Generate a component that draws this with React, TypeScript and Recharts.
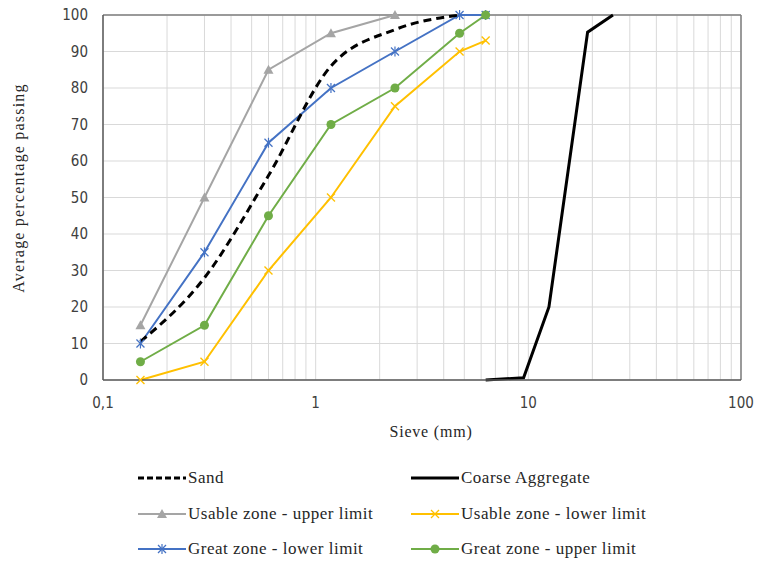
import React from 'react';
import { LineChart, Line, XAxis, YAxis, CartesianGrid, ReferenceLine, Label } from 'recharts';

// ---- data ----
const sieveSand = [0.15, 0.3, 0.6, 1.18, 2.36, 4.75];
const sandPassing = [10.5, 28, 56, 86, 96, 100];

const sieveCoarse = [6.3, 9.5, 12.5, 19, 25];
const coarsePassing = [0, 0.6, 20, 95.3, 100];

const sieveUsableUpper = [0.15, 0.3, 0.6, 1.18, 2.36];
const usableUpper = [15, 50, 85, 95, 100];

const sieveZones = [0.15, 0.3, 0.6, 1.18, 2.36, 4.75, 6.3];
const usableLower = [0, 5, 30, 50, 75, 90, 93];
const greatLower = [10, 35, 65, 80, 90, 100, 100];
const greatUpper = [5, 15, 45, 70, 80, 95, 100];

const xTicks = [
  0.1, 0.2, 0.3, 0.4, 0.5, 0.6, 0.7, 0.8, 0.9,
  1, 2, 3, 4, 5, 6, 7, 8, 9,
  10, 20, 30, 40, 50, 60, 70, 80, 90, 100,
];
const xTickLabels: Record<string, string> = { '0.1': '0,1', '1': '1', '10': '10', '100': '100' };
const yTicks = [0, 10, 20, 30, 40, 50, 60, 70, 80, 90, 100];

const seriesNames = [
  'Sand',
  'Coarse Aggregate',
  'Usable zone - upper limit',
  'Usable zone - lower limit',
  'Great zone - lower limit',
  'Great zone - upper limit',
];

const toPoints = (xs: number[], ys: number[]) => xs.map((x, i) => ({ x, y: ys[i] }));

const sandData = toPoints(sieveSand, sandPassing);
const coarseData = toPoints(sieveCoarse, coarsePassing);
const usableUpperData = toPoints(sieveUsableUpper, usableUpper);
const usableLowerData = toPoints(sieveZones, usableLower);
const greatLowerData = toPoints(sieveZones, greatLower);
const greatUpperData = toPoints(sieveZones, greatUpper);

// ---- styles ----
const GRAY = '#a5a5a5';
const YELLOW = '#ffc000';
const BLUE = '#4472c4';
const GREEN = '#70ad47';
const TICK_FONT = 'DejaVu Sans Condensed';
const SERIF = 'Liberation Serif';

type Shape = 'triangle' | 'x' | 'star' | 'circle' | 'none';

const Marker = ({ cx, cy, shape, color }: { cx: number; cy: number; shape: Shape; color: string }) => {
  if (shape === 'triangle')
    return <polygon points={`${cx},${cy - 5} ${cx - 5},${cy + 4} ${cx + 5},${cy + 4}`} fill={color} />;
  if (shape === 'x')
    return (
      <g stroke={color} strokeWidth={1.3}>
        <line x1={cx - 4} y1={cy - 4} x2={cx + 4} y2={cy + 4} />
        <line x1={cx - 4} y1={cy + 4} x2={cx + 4} y2={cy - 4} />
      </g>
    );
  if (shape === 'star')
    return (
      <g stroke={color} strokeWidth={1.2}>
        <line x1={cx - 4} y1={cy - 4} x2={cx + 4} y2={cy + 4} />
        <line x1={cx - 4} y1={cy + 4} x2={cx + 4} y2={cy - 4} />
        <line x1={cx} y1={cy - 5} x2={cx} y2={cy + 5} />
      </g>
    );
  if (shape === 'circle') return <circle cx={cx} cy={cy} r={4.5} fill={color} />;
  return null;
};

const dotFn = (shape: Shape, color: string) => (props: any) => {
  const { cx, cy, index } = props;
  if (cx == null || cy == null) return <g key={`d-${index}`} />;
  return (
    <g key={`d-${shape}-${index}`}>
      <Marker cx={cx} cy={cy} shape={shape} color={color} />
    </g>
  );
};

const legendItems: { name: string; color: string; width: number; dash?: string; shape: Shape; left: number; top: number }[] = [
  { name: seriesNames[0], color: '#000', width: 3, dash: '6 3', shape: 'none', left: 137, top: 478 },
  { name: seriesNames[1], color: '#000', width: 3, shape: 'none', left: 410, top: 478 },
  { name: seriesNames[2], color: GRAY, width: 2, shape: 'triangle', left: 137, top: 514 },
  { name: seriesNames[3], color: YELLOW, width: 2, shape: 'x', left: 410, top: 514 },
  { name: seriesNames[4], color: BLUE, width: 2, shape: 'star', left: 137, top: 549 },
  { name: seriesNames[5], color: GREEN, width: 2, shape: 'circle', left: 410, top: 549 },
];

const YTitle = () => (
  <text
    x={18}
    y={188}
    transform="rotate(-90 18 188)"
    textAnchor="middle"
    dominantBaseline="central"
    style={{ fontFamily: SERIF, fontSize: 16, letterSpacing: 1.2 }}
    fill="#262626"
  >
    Average percentage passing
  </text>
);

const XTitle = (props: any) => {
  const vb = props.viewBox || { x: 103, y: 380, width: 638, height: 60 };
  const cx = vb.x + vb.width / 2 + 9;
  return (
    <text
      x={cx}
      y={431}
      textAnchor="middle"
      dominantBaseline="central"
      style={{ fontFamily: SERIF, fontSize: 16, letterSpacing: 0.8 }}
      fill="#262626"
    >
      Sieve (mm)
    </text>
  );
};

export default function App() {
  return (
    <div style={{ position: 'absolute', left: 0, top: 0, width: 757, height: 563, background: '#fff' }}>
      <LineChart width={757} height={563} margin={{ top: 15, right: 16, left: 0, bottom: 123 }}>
        <CartesianGrid stroke="#d9d9d9" strokeWidth={1} />
        <XAxis
          dataKey="x"
          type="number"
          scale="log"
          domain={[0.1, 100]}
          ticks={xTicks}
          interval={0}
          tickFormatter={(v: number) => xTickLabels[String(v)] ?? ''}
          tickLine={false}
          tickSize={0}
          tickMargin={17}
          height={60}
          axisLine={{ stroke: '#595959', strokeWidth: 1.5 }}
          tick={{ fill: '#404040', fontSize: 15, fontFamily: TICK_FONT }}
        >
          <Label content={(p: any) => <XTitle {...p} />} />
        </XAxis>
        <YAxis
          type="number"
          domain={[0, 100]}
          ticks={yTicks}
          interval={0}
          width={103}
          tickLine={false}
          tickSize={0}
          tickMargin={15}
          axisLine={{ stroke: '#595959', strokeWidth: 1.5 }}
          tick={{ fill: '#404040', fontSize: 15, fontFamily: TICK_FONT }}
        >
          <Label content={() => <YTitle />} />
        </YAxis>
        <ReferenceLine y={100} stroke="#7f7f7f" strokeWidth={1.5} />
        <ReferenceLine x={100} stroke="#7f7f7f" strokeWidth={1.5} />

        <Line
          data={usableUpperData}
          dataKey="y"
          name={seriesNames[2]}
          stroke={GRAY}
          strokeWidth={2}
          type="linear"
          dot={dotFn('triangle', GRAY)}
          activeDot={false}
          isAnimationActive={false}
        />
        <Line
          data={usableLowerData}
          dataKey="y"
          name={seriesNames[3]}
          stroke={YELLOW}
          strokeWidth={2}
          type="linear"
          dot={dotFn('x', YELLOW)}
          activeDot={false}
          isAnimationActive={false}
        />
        <Line
          data={greatLowerData}
          dataKey="y"
          name={seriesNames[4]}
          stroke={BLUE}
          strokeWidth={2}
          type="linear"
          dot={dotFn('star', BLUE)}
          activeDot={false}
          isAnimationActive={false}
        />
        <Line
          data={greatUpperData}
          dataKey="y"
          name={seriesNames[5]}
          stroke={GREEN}
          strokeWidth={2}
          type="linear"
          dot={dotFn('circle', GREEN)}
          activeDot={false}
          isAnimationActive={false}
        />
        <Line
          data={sandData}
          dataKey="y"
          name={seriesNames[0]}
          stroke="#000"
          strokeWidth={3}
          strokeDasharray="8 5"
          type="monotone"
          dot={false}
          activeDot={false}
          isAnimationActive={false}
        />
        <Line
          data={coarseData}
          dataKey="y"
          name={seriesNames[1]}
          stroke="#000"
          strokeWidth={3}
          type="linear"
          dot={false}
          activeDot={false}
          isAnimationActive={false}
        />
      </LineChart>

      {legendItems.map((it) => (
        <div
          key={it.name}
          style={{
            position: 'absolute',
            left: it.left,
            top: it.top - 11,
            height: 22,
            display: 'flex',
            alignItems: 'center',
            whiteSpace: 'nowrap',
          }}
        >
          <svg width={50} height={22} style={{ display: 'block' }}>
            <line x1={1} y1={11} x2={49} y2={11} stroke={it.color} strokeWidth={it.width} strokeDasharray={it.dash} />
            <Marker cx={25} cy={11} shape={it.shape} color={it.color} />
          </svg>
          <span style={{ fontFamily: SERIF, fontSize: 17, letterSpacing: 0.5, color: '#262626', marginLeft: 1 }}>
            {it.name}
          </span>
        </div>
      ))}
    </div>
  );
}
